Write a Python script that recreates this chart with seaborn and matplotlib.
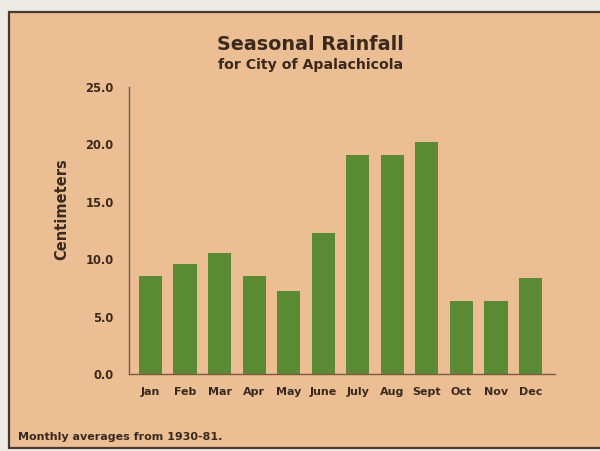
import matplotlib
matplotlib.use("Agg")
import matplotlib.pyplot as plt
import seaborn as sns
import pandas as pd
from matplotlib.patches import Rectangle

months = ["Jan", "Feb", "Mar", "Apr", "May", "June", "July", "Aug", "Sept", "Oct", "Nov", "Dec"]
rainfall_cm = [8.5, 9.6, 10.5, 8.5, 7.2, 12.3, 19.1, 19.1, 20.2, 6.4, 6.4, 8.4]
y_ticks = [0.0, 5.0, 10.0, 15.0, 20.0, 25.0]

df = pd.DataFrame({"month": months, "cm": rainfall_cm})

sns.set_theme(style="white")
plt.rcParams['font.family'] = ['DejaVu Sans']

peach = "#EBBE93"
green = "#5A8A34"
ink = "#3B2A1C"
axis_col = "#7A5A42"

fig = plt.figure(figsize=(6.0, 4.51), dpi=100)
fig.patch.set_facecolor("#EEEBE6")
bg = fig.add_axes([0, 0, 1, 1], zorder=-5)
bg.set_axis_off()
bg.add_patch(Rectangle((0.015, 0.006), 1.0, 0.967, transform=fig.transFigure,
                       facecolor=peach, edgecolor="#4A3A2C", linewidth=1.6))

ax = fig.add_axes([0.215, 0.1707, 0.71, 0.6363], zorder=1)
ax.set_facecolor("none")
sns.barplot(data=df, x="month", y="cm", color=green, width=0.67,
            saturation=1, ax=ax, edgecolor=green, linewidth=0)

ax.set_xlim(-0.622, 11.71)
ax.set_ylim(0, 25)
ax.set_yticks(y_ticks)
ax.set_yticklabels([f"{v:.1f}" for v in y_ticks])
ax.set_xlabel("")
ax.set_ylabel("")

for s in ["top", "right"]:
    ax.spines[s].set_visible(False)
for s in ["left", "bottom"]:
    ax.spines[s].set_color(axis_col)
    ax.spines[s].set_linewidth(1.0)

ax.tick_params(axis="both", which="both", direction="out", length=3, width=0.8,
               color=axis_col, labelsize=8.3, labelcolor=ink)
ax.tick_params(axis="y", pad=8)
ax.tick_params(axis="x", pad=6, labelsize=8)
for lab in ax.get_xticklabels() + ax.get_yticklabels():
    lab.set_fontweight("bold")

fig.text(0.103, 1 - 209 / 451, "Centimeters", rotation=90, ha="center", va="center",
         fontsize=10.5, fontweight="bold", color=ink)
fig.text(0.517, 0.902, "Seasonal Rainfall", ha="center", va="center",
         fontsize=13.8, fontweight="bold", color=ink)
fig.text(0.517, 0.856, "for City of Apalachicola", ha="center", va="center",
         fontsize=10.2, fontweight="bold", color=ink)
fig.text(0.03, 0.031, "Monthly averages from 1930-81.", ha="left", va="center",
         fontsize=8, fontweight="bold", color=ink)

fig.savefig("out.png", dpi=100, facecolor=fig.get_facecolor())
